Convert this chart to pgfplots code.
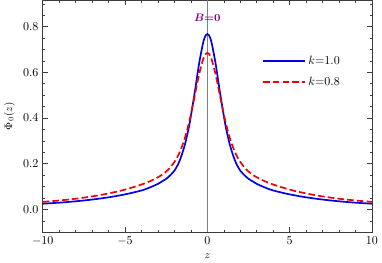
\documentclass[border=0pt]{standalone}
\usepackage{pgfplots}
\usepackage{bm}
\pgfplotsset{compat=1.18}
\definecolor{cblue}{RGB}{0,0,235}
\definecolor{cred}{RGB}{240,0,0}
\definecolor{cpurple}{RGB}{128,0,128}
\definecolor{axgray}{RGB}{60,60,60}
\begin{document}
\begin{tikzpicture}
\begin{axis}[
  scale only axis,
  width=273.5pt, height=192.6pt,
  xmin=-10, xmax=10, ymin=-0.1, ymax=0.915,
  xtick={-10,-5,0,5,10},
  minor xtick={-9,-8,-7,-6,-4,-3,-2,-1,1,2,3,4,6,7,8,9},
  ytick={0,0.2,0.4,0.6,0.8},
  minor ytick={-0.05,0.05,0.1,0.15,0.25,0.3,0.35,0.45,0.5,0.55,0.65,0.7,0.75,0.85,0.9},
  yticklabel style={/pgf/number format/.cd,fixed,fixed zerofill,precision=1},
  tick align=inside,
  major tick length=4pt, minor tick length=2pt,
  every tick/.style={axgray, line width=0.5pt},
  axis line style={axgray, line width=0.7pt},
  xlabel={$z$}, ylabel={$\Phi_0(z)$},
  tick label style={font=\normalsize},
  label style={font=\small},
  legend style={at={(0.655,0.795)}, anchor=north west, draw=none, fill=none,
    font=\normalsize, nodes={inner ysep=4.5pt}},
  legend cell align=left,
  legend image code/.code={\draw[#1] (0pt,0pt) -- (35pt,0pt);},
]
\addplot[gray, line width=0.6pt, forget plot] coordinates {(0,-0.1) (0,0.915)};
\addplot[cblue, line width=1.4pt, smooth] coordinates {
(-10,0.0250) (-9,0.0296) (-8,0.0356) (-7,0.0432) (-6,0.0531) (-5,0.0659)
(-4,0.083) (-3.5,0.096) (-3,0.112) (-2.75,0.123) (-2.5,0.134) (-2.25,0.150) (-2,0.1695)
(-1.875,0.1845) (-1.75,0.202) (-1.625,0.2245) (-1.5,0.251) (-1.375,0.281)
(-1.25,0.318) (-1.125,0.359) (-1,0.409) (-0.75,0.520) (-0.5,0.639) (-0.25,0.732)
(-0.1,0.7625) (0,0.768) (0.1,0.7625) (0.25,0.732) (0.5,0.639) (0.75,0.520)
(1,0.409) (1.125,0.359) (1.25,0.318) (1.375,0.281) (1.5,0.251) (1.625,0.2245)
(1.75,0.202) (1.875,0.1845) (2,0.1695) (2.25,0.150) (2.5,0.134) (2.75,0.123)
(3,0.112) (3.5,0.096) (4,0.083) (5,0.0659) (6,0.0531) (7,0.0432) (8,0.0356)
(9,0.0296) (10,0.0250)
};
\addlegendentry{$k$=1.0}
\addplot[cred, line width=1.4pt, smooth, dashed, dash pattern=on 5.5pt off 2.6pt] coordinates {
(-10,0.033) (-9,0.0391) (-8,0.0469) (-7,0.057) (-6,0.070) (-5,0.0868)
(-4,0.109) (-3.5,0.123) (-3,0.141) (-2.75,0.152) (-2.5,0.166) (-2.25,0.184) (-2,0.208)
(-1.875,0.2225) (-1.75,0.240) (-1.625,0.260) (-1.5,0.284) (-1.375,0.310)
(-1.25,0.342) (-1.125,0.377) (-1,0.416) (-0.75,0.504) (-0.5,0.592) (-0.25,0.659)
(-0.1,0.681) (0,0.685) (0.1,0.681) (0.25,0.659) (0.5,0.592) (0.75,0.504)
(1,0.416) (1.125,0.377) (1.25,0.342) (1.375,0.310) (1.5,0.284) (1.625,0.260)
(1.75,0.240) (1.875,0.2225) (2,0.208) (2.25,0.184) (2.5,0.166) (2.75,0.152)
(3,0.141) (3.5,0.123) (4,0.109) (5,0.0868) (6,0.070) (7,0.057) (8,0.0469)
(9,0.0391) (10,0.033)
};
\addlegendentry{$k$=0.8}
\node[cpurple, font=\small] at (axis cs:0,0.84) {$\bm{B{=}0}$};
\end{axis}
\end{tikzpicture}
\end{document}
